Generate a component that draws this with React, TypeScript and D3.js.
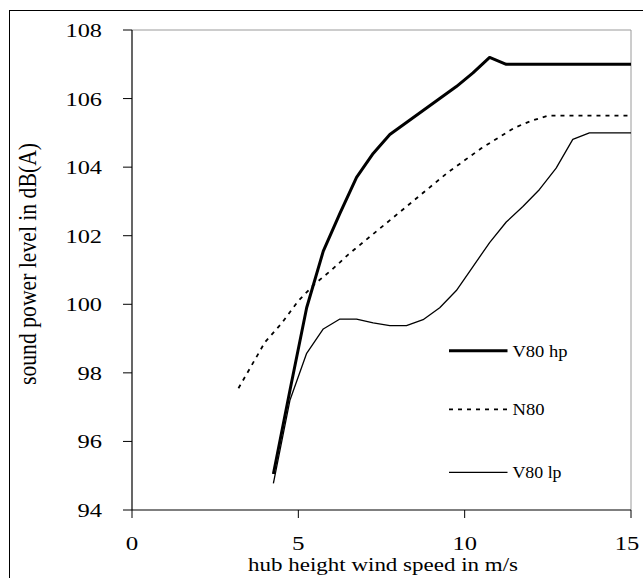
import React from "react";
import * as d3 from "d3";

const xTicks = [0, 5, 10, 15];
const yTicks = [94, 96, 98, 100, 102, 104, 106, 108];

const hpSpeed = [4.25, 4.75, 5.25, 5.75, 6.25, 6.75, 7.25, 7.75, 8.25, 8.75, 9.25, 9.75, 10.25, 10.75, 11.25, 15];
const hpLevel = [95.05, 97.5, 99.9, 101.55, 102.65, 103.7, 104.4, 104.95, 105.3, 105.65, 106.0, 106.35, 106.75, 107.2, 107.0, 107.0];

const n80Speed = [3.2, 4.0, 4.5, 5.0, 5.5, 6.0, 6.5, 7.0, 7.5, 8.0, 8.5, 9.0, 9.5, 10.0, 10.5, 11.0, 11.5, 12.0, 12.5, 15];
const n80Level = [97.55, 98.9, 99.45, 100.1, 100.6, 101.0, 101.45, 101.85, 102.25, 102.65, 103.05, 103.45, 103.85, 104.2, 104.55, 104.85, 105.15, 105.35, 105.5, 105.5];

const lpSpeed = [4.25, 4.75, 5.25, 5.75, 6.25, 6.75, 7.25, 7.75, 8.25, 8.75, 9.25, 9.75, 10.25, 10.75, 11.25, 11.75, 12.25, 12.75, 13.25, 13.75, 15];
const lpLevel = [94.78, 97.21, 98.57, 99.28, 99.57, 99.57, 99.46, 99.38, 99.38, 99.55, 99.9, 100.4, 101.1, 101.8, 102.4, 102.85, 103.35, 103.97, 104.81, 105.0, 105.0];

const seriesNames = ["V80 hp", "N80", "V80 lp"];

const X0 = 132, X1 = 631, Y0 = 510, Y1 = 30;
const FONT = "'Liberation Serif', 'Times New Roman', serif";

export default function App() {
  const x = d3.scaleLinear().domain([0, 15]).range([X0, X1]);
  const y = d3.scaleLinear().domain([94, 108]).range([Y0, Y1]);
  const line = d3
    .line<[number, number]>()
    .x((d) => x(d[0]))
    .y((d) => y(d[1]));
  const zip = (a: number[], b: number[]) => a.map((v, i) => [v, b[i]] as [number, number]);

  const series = [
    { name: seriesNames[0], d: line(zip(hpSpeed, hpLevel)), w: 3, dash: undefined as string | undefined, lw: 55 },
    { name: seriesNames[1], d: line(zip(n80Speed, n80Level)), w: 1.8, dash: "4,5", lw: 32 },
    { name: seriesNames[2], d: line(zip(lpSpeed, lpLevel)), w: 1.3, dash: undefined as string | undefined, lw: 49 },
  ];
  const legendY = [350.7, 409.3, 472.3];

  const tickLen = (s: string) => s.length * 12 + 0.5;

  return (
    <svg
      width={643}
      height={578}
      style={{ position: "absolute", left: 0, top: 0, background: "#fff" }}
      fontFamily={FONT}
    >
      <rect x={0} y={0} width={643} height={578} fill="#fff" />
      <rect x={9.5} y={10.5} width={700} height={700} fill="none" stroke="#000" strokeWidth={1} />

      {/* plot frame (gray top & right) */}
      <line x1={X0} x2={X1} y1={Y1} y2={Y1} stroke="#9a9a9a" strokeWidth={1} />
      <line x1={X1} x2={X1} y1={Y1} y2={Y0} stroke="#9a9a9a" strokeWidth={1} />

      {/* series */}
      {series.map((s) => (
        <path
          key={s.name}
          d={s.d || ""}
          fill="none"
          stroke="#000"
          strokeWidth={s.w}
          strokeDasharray={s.dash}
          strokeLinejoin="round"
        />
      ))}

      {/* axes */}
      <line x1={X0} x2={X0} y1={Y1} y2={Y0} stroke="#000" strokeWidth={1.2} />
      <line x1={X0} x2={X1} y1={Y0} y2={Y0} stroke="#000" strokeWidth={1.2} />
      {yTicks.map((t) => (
        <g key={"y" + t}>
          <line x1={X0 - 9} x2={X0} y1={y(t)} y2={y(t)} stroke="#000" strokeWidth={1} />
          <text
            x={102}
            y={y(t) + 7}
            fontSize={19.5}
            textAnchor="end"
            textLength={tickLen(String(t))}
            lengthAdjust="spacingAndGlyphs"
          >
            {t}
          </text>
        </g>
      ))}
      {xTicks.map((t, i) => (
        <g key={"x" + t}>
          <line x1={x(t)} x2={x(t)} y1={Y0} y2={Y0 + 8} stroke="#000" strokeWidth={1} />
          <text
            x={i === xTicks.length - 1 ? x(t) - 4 : x(t)}
            y={550}
            fontSize={19.5}
            textAnchor="middle"
            textLength={tickLen(String(t))}
            lengthAdjust="spacingAndGlyphs"
          >
            {t}
          </text>
        </g>
      ))}

      {/* axis titles */}
      <text
        x={383}
        y={571}
        fontSize={18.5}
        textAnchor="middle"
        textLength={270}
        lengthAdjust="spacingAndGlyphs"
      >
        hub height wind speed in m/s
      </text>
      <g transform="translate(36,264) scale(1.25,1) rotate(-90)">
        <text x={0} y={0} fontSize={19.5} textAnchor="middle" textLength={242} lengthAdjust="spacingAndGlyphs">
          sound power level in dB(A)
        </text>
      </g>

      {/* legend */}
      {series.map((s, i) => (
        <g key={"lg" + s.name}>
          <line
            x1={449}
            x2={507.5}
            y1={legendY[i]}
            y2={legendY[i]}
            stroke="#000"
            strokeWidth={s.w}
            strokeDasharray={s.dash}
          />
          <text
            x={512.5}
            y={legendY[i] + 6}
            fontSize={16}
            textLength={s.lw}
            lengthAdjust="spacingAndGlyphs"
          >
            {s.name}
          </text>
        </g>
      ))}
    </svg>
  );
}
